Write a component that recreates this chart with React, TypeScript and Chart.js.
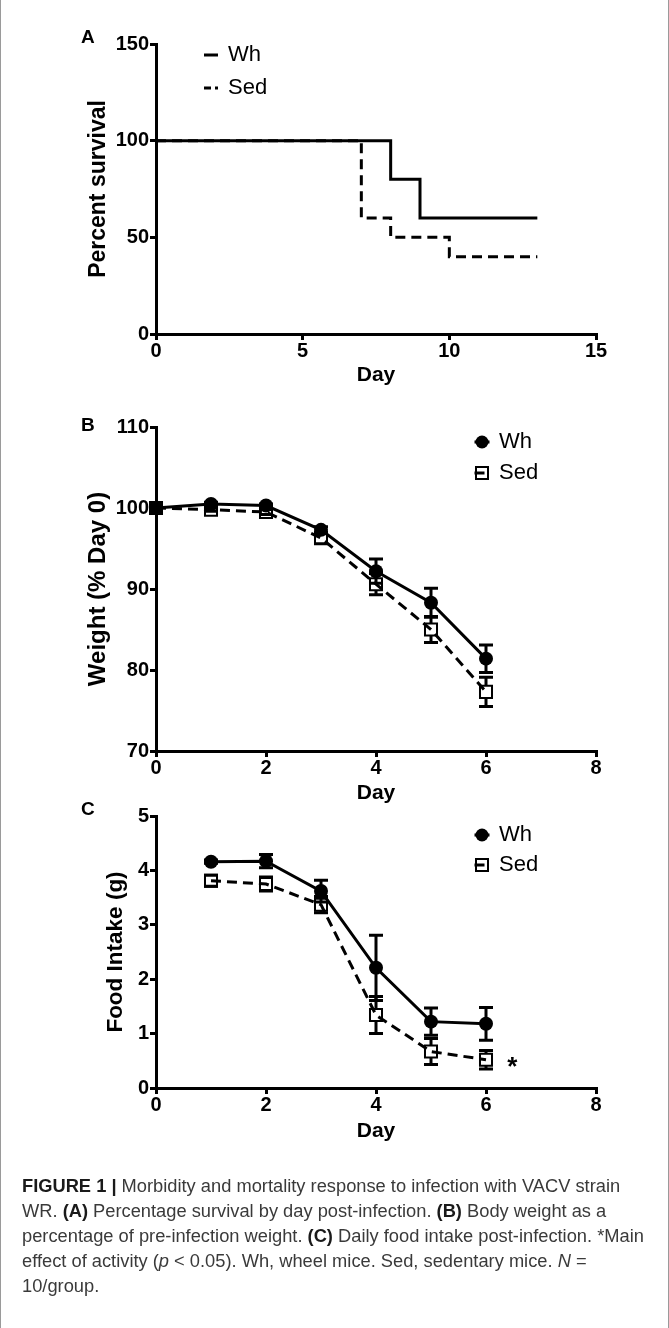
import React, { useEffect, useRef } from "react";
import { Chart, registerables } from "chart.js";

Chart.register(...registerables);

const FONT = "'Liberation Sans', Arial, Helvetica, sans-serif";

// ---------------- Data ----------------
const groupNames = ["Wh", "Sed"];

// (A) Percent survival (Kaplan-Meier steps)
const survivalWhDay = [0, 8, 9, 13];
const survivalWhPct = [100, 80, 60, 60];
const survivalSedDay = [0, 7, 8, 10, 13];
const survivalSedPct = [100, 60, 50, 40, 40];
const survivalXTicks = [0, 5, 10, 15];
const survivalYTicks = [0, 50, 100, 150];

// (B) Weight (% Day 0)
const weightDay = [0, 1, 2, 3, 4, 5, 6];
const weightWh = [100, 100.5, 100.3, 97.3, 92.2, 88.3, 81.4];
const weightWhErr = [0, 0.2, 0.2, 0.4, 1.5, 1.8, 1.7];
const weightSed = [100, 99.8, 99.5, 96.3, 90.6, 85.0, 77.3];
const weightSedErr = [0, 0.2, 0.3, 0.7, 1.3, 1.6, 1.8];
const weightXTicks = [0, 2, 4, 6, 8];
const weightYTicks = [70, 80, 90, 100, 110];

// (C) Food intake (g)
const foodDay = [1, 2, 3, 4, 5, 6];
const foodWh = [4.16, 4.17, 3.62, 2.21, 1.22, 1.18];
const foodWhErr = [0.03, 0.12, 0.2, 0.6, 0.25, 0.3];
const foodSed = [3.81, 3.75, 3.37, 1.34, 0.67, 0.52];
const foodSedErr = [0.1, 0.13, 0.15, 0.34, 0.24, 0.17];
const foodXTicks = [0, 2, 4, 6, 8];
const foodYTicks = [0, 1, 2, 3, 4, 5];
const foodStarDay = 6.48;
const foodStarValue = 0.45;
const foodStarText = "*";

// ---------------- Layout ----------------
const CW = 669;
const AREA_L = 156;
const AREA_R = 596;
const XAXIS_H = 60;
const DASH = [10, 6];

// ---------------- Plugins ----------------
const errorBars = {
  id: "errorBars",
  afterDatasetsDraw(chart: any) {
    const ctx = chart.ctx;
    const ys = chart.scales.y;
    chart.data.datasets.forEach((ds: any, i: number) => {
      const errs = ds.errors;
      if (!errs) return;
      const meta = chart.getDatasetMeta(i);
      const inner = ds.errInner || 0;
      ctx.save();
      ctx.strokeStyle = "#000";
      ctx.lineWidth = 3;
      ctx.setLineDash([]);
      meta.data.forEach((el: any, j: number) => {
        const e = errs[j];
        if (!e) return;
        const v = ds.data[j].y;
        const x = el.x;
        const yc = el.y;
        const yHi = ys.getPixelForValue(v + e);
        const yLo = ys.getPixelForValue(v - e);
        ctx.beginPath();
        if (yHi < yc - inner) {
          ctx.moveTo(x, yHi);
          ctx.lineTo(x, yc - inner);
        }
        if (yLo > yc + inner) {
          ctx.moveTo(x, yc + inner);
          ctx.lineTo(x, yLo);
        }
        ctx.moveTo(x - 7, yHi);
        ctx.lineTo(x + 7, yHi);
        ctx.moveTo(x - 7, yLo);
        ctx.lineTo(x + 7, yLo);
        ctx.stroke();
      });
      ctx.restore();
    });
  },
};

const insideLegend = {
  id: "insideLegend",
  afterDraw(chart: any, _args: any, opts: any) {
    if (!opts || opts.x === undefined) return;
    const ctx = chart.ctx;
    ctx.save();
    chart.data.datasets.forEach((ds: any, i: number) => {
      const y = opts.y + i * opts.rowGap;
      const x = opts.x;
      ctx.strokeStyle = "#000";
      ctx.lineWidth = 3;
      ctx.setLineDash(opts.dashes ? opts.dashes[i] : ds.borderDash || []);
      ctx.beginPath();
      ctx.moveTo(x - opts.half, y);
      ctx.lineTo(x + opts.half, y);
      ctx.stroke();
      ctx.setLineDash([]);
      if (opts.markers) {
        if (ds.pointStyle === "circle") {
          ctx.fillStyle = "#000";
          ctx.beginPath();
          ctx.arc(x, y, 6.5, 0, Math.PI * 2);
          ctx.fill();
        } else {
          ctx.lineWidth = 2;
          ctx.strokeRect(x - 6, y - 6, 12, 12);
        }
      }
      ctx.fillStyle = "#000";
      ctx.font = `${opts.fontSize || 22}px ${FONT}`;
      ctx.textBaseline = "middle";
      ctx.textAlign = "left";
      ctx.fillText(ds.label, opts.textX, y);
    });
    ctx.restore();
  },
};

const starNote = {
  id: "starNote",
  afterDraw(chart: any, _args: any, opts: any) {
    if (!opts || !opts.text) return;
    const ctx = chart.ctx;
    const px = chart.scales.x.getPixelForValue(opts.day);
    const py = chart.scales.y.getPixelForValue(opts.value);
    ctx.save();
    ctx.fillStyle = "#000";
    ctx.font = `bold 26px ${FONT}`;
    ctx.textAlign = "center";
    ctx.textBaseline = "middle";
    ctx.fillText(opts.text, px, py + 4);
    ctx.restore();
  },
};

// ---------------- Options ----------------
type Panel = {
  canvasTop: number;
  canvasH: number;
  areaTop: number; // page coordinates
  areaBottom: number; // page coordinates
  xTicks: number[];
  yTicks: number[];
  yTitle: string;
  yTitleX: number;
  yTitleSize: number;
  xTitleY: number; // page coordinates
  legend: any;
  star?: any;
};

function makeOptions(p: Panel): any {
  const grid = {
    display: true,
    drawOnChartArea: false,
    drawTicks: true,
    tickLength: 6,
    tickWidth: 3,
    tickColor: "#000",
    color: "#000",
    lineWidth: 3,
  };
  const border = { display: true, color: "#000", width: 3 };
  const tickFont = { family: FONT, size: 20, weight: "bold" };
  const xTitleFont = { family: FONT, size: 21, weight: "bold", lineHeight: 1.2 };
  const yTitleFont = { family: FONT, size: p.yTitleSize, weight: "bold", lineHeight: 1.2 };
  const top = p.areaTop - p.canvasTop;
  const bottom = p.areaBottom - p.canvasTop;
  const xScaleBottom = bottom + XAXIS_H;
  const xTitleLocal = p.xTitleY - p.canvasTop;
  return {
    responsive: false,
    maintainAspectRatio: false,
    animation: false,
    events: [],
    layout: {
      padding: {
        left: 0,
        right: CW - AREA_R,
        top,
        bottom: p.canvasH - bottom - XAXIS_H,
      },
    },
    plugins: {
      legend: { display: false },
      tooltip: { enabled: false },
      insideLegend: { ...p.legend, y: p.legend.y - p.canvasTop },
      starNote: p.star || {},
    },
    scales: {
      x: {
        type: "linear",
        min: p.xTicks[0],
        max: p.xTicks[p.xTicks.length - 1],
        ticks: {
          stepSize: p.xTicks[1] - p.xTicks[0],
          autoSkip: false,
          color: "#000",
          font: tickFont,
          padding: -1,
          maxRotation: 0,
        },
        grid,
        border,
        title: {
          display: true,
          text: "Day",
          color: "#000",
          font: xTitleFont,
          padding: { top: 0, bottom: xScaleBottom - xTitleLocal - (21 * 1.2) / 2 },
        },
        afterFit: (s: any) => {
          s.height = XAXIS_H;
        },
      },
      y: {
        type: "linear",
        min: p.yTicks[0],
        max: p.yTicks[p.yTicks.length - 1],
        ticks: {
          stepSize: p.yTicks[1] - p.yTicks[0],
          autoSkip: false,
          color: "#000",
          font: tickFont,
          padding: 1,
        },
        grid,
        border,
        title: {
          display: true,
          text: p.yTitle,
          color: "#000",
          font: yTitleFont,
          padding: { top: p.yTitleX - (p.yTitleSize * 1.2) / 2, bottom: 0 },
        },
        afterFit: (s: any) => {
          s.width = AREA_L;
        },
      },
    },
  };
}

const toXY = (xs: number[], ys: number[]) => xs.map((x, i) => ({ x, y: ys[i] }));

const panelA: Panel = {
  canvasTop: 0,
  canvasH: 400,
  areaTop: 44,
  areaBottom: 334,
  xTicks: survivalXTicks,
  yTicks: survivalYTicks,
  yTitle: "Percent survival",
  yTitleX: 99,
  yTitleSize: 23,
  xTitleY: 375,
  legend: { x: 211, y: 55, rowGap: 33, half: 7, textX: 228, markers: false, dashes: [[], [7, 4]], fontSize: 22 },
};
const panelB: Panel = {
  canvasTop: 390,
  canvasH: 430,
  areaTop: 427,
  areaBottom: 751,
  xTicks: weightXTicks,
  yTicks: weightYTicks,
  yTitle: "Weight (% Day 0)",
  yTitleX: 98,
  yTitleSize: 24,
  xTitleY: 793,
  legend: { x: 482, y: 442, rowGap: 31, half: 7.5, textX: 499, markers: true, fontSize: 22 },
};
const panelC: Panel = {
  canvasTop: 790,
  canvasH: 380,
  areaTop: 816,
  areaBottom: 1088,
  xTicks: foodXTicks,
  yTicks: foodYTicks,
  yTitle: "Food Intake (g)",
  yTitleX: 116,
  yTitleSize: 22.5,
  xTitleY: 1131,
  legend: { x: 482, y: 835, rowGap: 30, half: 7.5, textX: 499, markers: true, fontSize: 22 },
  star: { day: foodStarDay, value: foodStarValue, text: foodStarText },
};

function markerSeries(label: string, xs: number[], ys: number[], errs: number[], wh: boolean) {
  return {
    label,
    data: toXY(xs, ys),
    errors: errs,
    errInner: wh ? 0 : 6,
    borderColor: "#000",
    borderWidth: 3,
    borderDash: wh ? [] : DASH,
    pointStyle: wh ? "circle" : "rect",
    pointRadius: wh ? 7 : 8.5,
    pointBorderWidth: wh ? 0 : 2,
    pointBackgroundColor: wh ? "#000" : "rgba(0,0,0,0)",
    pointBorderColor: "#000",
    tension: 0,
    fill: false,
    clip: false,
  };
}

export default function App() {
  const refA = useRef<HTMLCanvasElement>(null);
  const refB = useRef<HTMLCanvasElement>(null);
  const refC = useRef<HTMLCanvasElement>(null);

  useEffect(() => {
    document.body.style.margin = "0";
    const charts: Chart[] = [];
    charts.push(
      new Chart(refA.current as HTMLCanvasElement, {
        type: "line",
        data: {
          datasets: [
            {
              label: groupNames[0],
              data: toXY(survivalWhDay, survivalWhPct),
              stepped: "before",
              borderColor: "#000",
              borderWidth: 3,
              pointRadius: 0,
              clip: false,
            } as any,
            {
              label: groupNames[1],
              data: toXY(survivalSedDay, survivalSedPct),
              stepped: "before",
              borderColor: "#000",
              borderWidth: 3,
              borderDash: DASH,
              pointRadius: 0,
              clip: false,
            } as any,
          ],
        },
        options: makeOptions(panelA),
        plugins: [insideLegend],
      })
    );
    charts.push(
      new Chart(refB.current as HTMLCanvasElement, {
        type: "line",
        data: {
          datasets: [
            markerSeries(groupNames[0], weightDay, weightWh, weightWhErr, true) as any,
            markerSeries(groupNames[1], weightDay, weightSed, weightSedErr, false) as any,
          ],
        },
        options: makeOptions(panelB),
        plugins: [errorBars, insideLegend],
      })
    );
    charts.push(
      new Chart(refC.current as HTMLCanvasElement, {
        type: "line",
        data: {
          datasets: [
            markerSeries(groupNames[0], foodDay, foodWh, foodWhErr, true) as any,
            markerSeries(groupNames[1], foodDay, foodSed, foodSedErr, false) as any,
          ],
        },
        options: makeOptions(panelC),
        plugins: [errorBars, insideLegend, starNote],
      })
    );
    return () => charts.forEach((c) => c.destroy());
  }, []);

  const canvasStyle = (p: Panel): React.CSSProperties => ({
    position: "absolute",
    left: 0,
    top: p.canvasTop,
    width: CW,
    height: p.canvasH,
  });
  const letter = (t: string, top: number): React.ReactNode => (
    <div
      style={{
        position: "absolute",
        left: 81,
        top,
        fontFamily: FONT,
        fontWeight: "bold",
        fontSize: 19,
        lineHeight: "20px",
        color: "#000",
      }}
    >
      {t}
    </div>
  );
  const lineStyle: React.CSSProperties = { whiteSpace: "nowrap", height: 25 };
  const bold: React.CSSProperties = { color: "#1a1a1a" };

  return (
    <div
      style={{
        position: "absolute",
        left: 0,
        top: 0,
        width: CW,
        height: 1328,
        background: "#fff",
        overflow: "hidden",
      }}
    >
      <canvas ref={refA} width={CW} height={panelA.canvasH} style={canvasStyle(panelA)} />
      <canvas ref={refB} width={CW} height={panelB.canvasH} style={canvasStyle(panelB)} />
      <canvas ref={refC} width={CW} height={panelC.canvasH} style={canvasStyle(panelC)} />
      {letter("A", 27)}
      {letter("B", 415)}
      {letter("C", 799)}
      <div
        style={{
          position: "absolute",
          left: 22,
          top: 1173,
          fontFamily: FONT,
          fontSize: 18.3,
          lineHeight: "25px",
          color: "#3a3a3a",
        }}
      >
        <div style={lineStyle}>
          <b style={bold}>FIGURE 1 |</b> Morbidity and mortality response to infection with VACV strain
        </div>
        <div style={lineStyle}>
          WR. <b style={bold}>(A)</b> Percentage survival by day post-infection. <b style={bold}>(B)</b> Body weight as a
        </div>
        <div style={lineStyle}>
          percentage of pre-infection weight. <b style={bold}>(C)</b> Daily food intake post-infection. *Main
        </div>
        <div style={lineStyle}>
          effect of activity (<i>p</i> &lt; 0.05). Wh, wheel mice. Sed, sedentary mice. <i>N</i> =
        </div>
        <div style={lineStyle}>10/group.</div>
      </div>
      <div
        style={{
          position: "absolute",
          left: 0,
          top: 0,
          width: CW,
          height: 1328,
          borderLeft: "1px solid #9a9a9a",
          borderRight: "1px solid #9a9a9a",
          boxSizing: "border-box",
          pointerEvents: "none",
        }}
      />
    </div>
  );
}
